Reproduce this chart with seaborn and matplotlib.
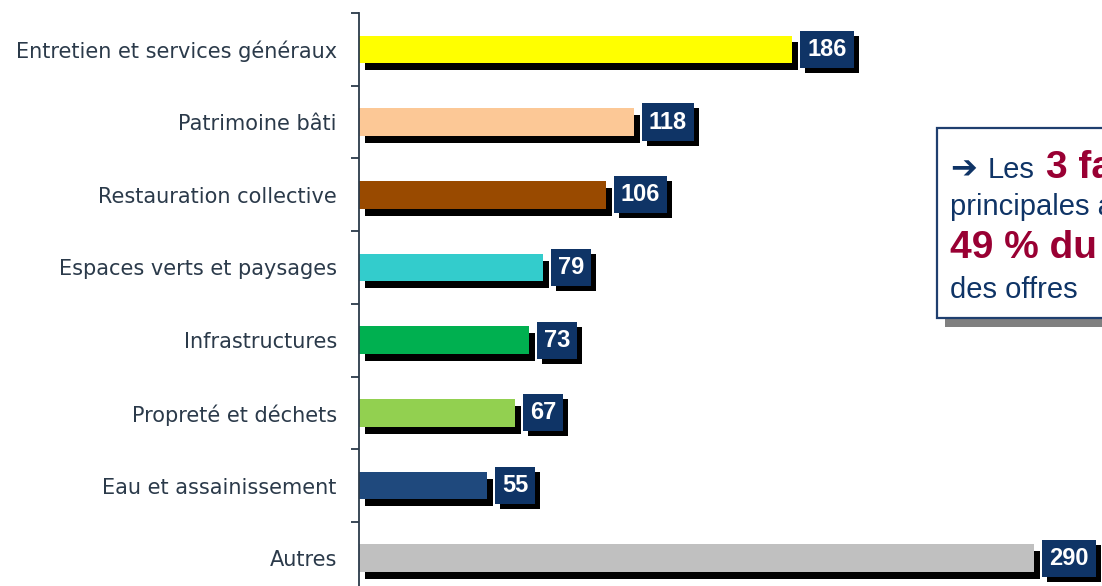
import matplotlib
matplotlib.use("Agg")
import matplotlib.pyplot as plt
import matplotlib.patheffects as pe
from matplotlib.patches import Rectangle
from matplotlib.ticker import FixedLocator
import seaborn as sns

categories = [
    "Entretien et services généraux",
    "Patrimoine bâti",
    "Restauration collective",
    "Espaces verts et paysages",
    "Infrastructures",
    "Propreté et déchets",
    "Eau et assainissement",
    "Autres",
]
values = [186, 118, 106, 79, 73, 67, 55, 290]
bar_colors = ["#ffff00", "#fcc896", "#994a00", "#33cccc",
              "#00b050", "#92d050", "#1f497d", "#c0c0c0"]

W, H = 1102, 586
NAVY = "#0f3466"
CRIMSON = "#990033"
AXIS_COL = "#2b3a4a"

sns.set_style("white")
fig = plt.figure(figsize=(W / 100, H / 100), dpi=100)
# axes top at 13px from the top, bars spaced ~72.7px; the last row runs past the bottom edge
ax = fig.add_axes([359 / W, (H - 13 - 8 * 72.7) / H, (W - 359) / W, 8 * 72.7 / H])

sns.barplot(x=values, y=categories, hue=categories, palette=bar_colors,
            saturation=1, width=0.38, orient="h", legend=False, ax=ax)

for patch in ax.patches:
    patch.set_edgecolor("none")
    patch.set_path_effects([pe.SimplePatchShadow(offset=(4.3, -5), shadow_rgbFace="black", alpha=1),
                            pe.Normal()])

for i, v in enumerate(values):
    t = ax.annotate(str(v), xy=(v, i), xytext=(10.8, 0), textcoords="offset points",
                    ha="left", va="center", color="white", fontsize=17, fontweight="bold",
                    family="Liberation Sans", annotation_clip=False,
                    bbox=dict(boxstyle="square,pad=0.3", fc=NAVY, ec="none"))
    t.get_bbox_patch().set_path_effects([
        pe.SimplePatchShadow(offset=(3.6, -3.6), shadow_rgbFace="black", alpha=1),
        pe.Normal()])

ax.set_xlim(0, 319)
ax.set_ylim(len(categories) - 0.5, -0.5)
ax.set_xlabel("")
ax.set_ylabel("")
ax.set_xticks([])
for side in ["top", "right", "bottom"]:
    ax.spines[side].set_visible(False)
ax.spines["left"].set_color(AXIS_COL)
ax.spines["left"].set_linewidth(1.3)

ax.yaxis.set_minor_locator(FixedLocator([i - 0.5 for i in range(len(categories) + 1)]))
ax.tick_params(axis="y", which="major", length=0, pad=16, labelsize=15, labelcolor=AXIS_COL)
ax.tick_params(axis="y", which="minor", length=6, width=1.3, color=AXIS_COL, direction="out", left=True)
for lab in ax.get_yticklabels():
    lab.set_family("DejaVu Sans")

# comment box on the right, cut by the figure edge
shadow = Rectangle((945 / W, 1 - 327 / H), (W - 945 + 20) / W, 190 / H, transform=fig.transFigure,
                   fc="#808080", ec="none", zorder=10)
box = Rectangle((937 / W, 1 - 318 / H), (W - 937 + 20) / W, 190 / H, transform=fig.transFigure,
                fc="white", ec="#1f3f6f", lw=1.6, zorder=11)
fig.add_artist(shadow)
fig.add_artist(box)

norm = dict(color=NAVY, fontsize=21, family=["Liberation Sans", "DejaVu Sans"], zorder=12)
bold = dict(color=CRIMSON, fontsize=28, fontweight="bold", family="Liberation Sans", zorder=12)


def put(x, ybase, s, style):
    fig.text(x / W, 1 - ybase / H, s, ha="left", va="baseline", **style)


put(950, 178, "➔", dict(norm, fontweight="bold", fontsize=23))
put(988, 178, "Les", norm)
put(1046, 178, "3 familles", bold)
put(950, 215, "principales atteignent", norm)
put(950, 258, "49 % du total", bold)
put(950, 298, "des offres", norm)

fig.savefig("out.png", dpi=100)
